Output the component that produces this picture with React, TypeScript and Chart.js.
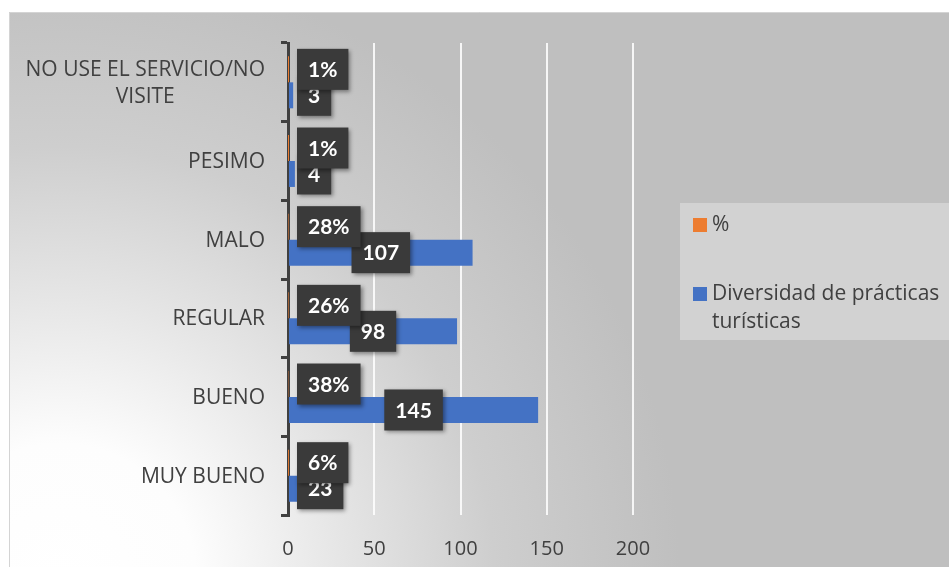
import React, { useEffect, useRef } from 'react';
import { Chart, registerables } from 'chart.js';

Chart.register(...registerables);

const categories: (string | string[])[] = [
  ['NO USE EL SERVICIO/NO', 'VISITE'],
  'PESIMO',
  'MALO',
  'REGULAR',
  'BUENO',
  'MUY BUENO',
];
const percentValues = [0.01, 0.01, 0.28, 0.26, 0.38, 0.06];
const countValues = [3, 4, 107, 98, 145, 23];
const seriesNames = ['%', 'Diversidad de prácticas turísticas'];
const seriesColors = ['#ed7d31', '#4472c4'];
const legendLines = [['%'], ['Diversidad de prácticas', 'turísticas']];
const xMin = 0;
const xMax = 200;
const xStep = 50;

const TEXT = '#404040';
const FONT = "'Open Sans', 'Noto Sans', sans-serif";

const backgroundPlugin = {
  id: 'bg',
  beforeDraw(chart: any) {
    const { ctx, width, height } = chart;
    ctx.save();
    ctx.fillStyle = '#ffffff';
    ctx.fillRect(0, 0, width, height);
    const g = ctx.createRadialGradient(60, 580, 0, 60, 580, 620);
    g.addColorStop(0, '#ffffff');
    g.addColorStop(0.22, '#fdfdfd');
    g.addColorStop(0.45, '#e6e6e6');
    g.addColorStop(0.7, '#cecece');
    g.addColorStop(1, '#bfbfbf');
    ctx.fillStyle = g;
    ctx.fillRect(9, 12, width - 9, height - 12);
    ctx.strokeStyle = '#d4d4d4';
    ctx.lineWidth = 1;
    ctx.beginPath();
    ctx.moveTo(9.5, height);
    ctx.lineTo(9.5, 12.5);
    ctx.lineTo(width, 12.5);
    ctx.stroke();
    ctx.restore();
  },
};

const categoryLabelPlugin = {
  id: 'catLabels',
  afterDraw(chart: any) {
    const { ctx } = chart;
    const yScale = chart.scales.y;
    ctx.save();
    ctx.font = `21px ${FONT}`;
    ctx.fillStyle = TEXT;
    ctx.textAlign = 'center';
    ctx.textBaseline = 'middle';
    const rightEdge = yScale.right - 23;
    const lh = 27;
    categories.forEach((c, i) => {
      const lines = Array.isArray(c) ? c : [c];
      const maxW = Math.max(...lines.map((l) => ctx.measureText(l).width));
      const cx = rightEdge - maxW / 2;
      const cy = yScale.getPixelForValue(i);
      const start = cy - ((lines.length - 1) * lh) / 2;
      lines.forEach((l, k) => ctx.fillText(l, cx, start + k * lh + 1));
    });
    ctx.restore();
  },
};

const boxLabelPlugin = {
  id: 'boxLabels',
  afterDatasetsDraw(chart: any) {
    const { ctx } = chart;
    ctx.save();
    ctx.font = `bold 21px Lato, ${FONT}`;
    ctx.textAlign = 'center';
    ctx.textBaseline = 'middle';
    [1, 0].forEach((di) => {
      const meta = chart.getDatasetMeta(di);
      const data = chart.data.datasets[di].data as number[];
      meta.data.forEach((bar: any, i: number) => {
        const v = data[i];
        const text = di === 0 ? `${Math.round(v * 100)}%` : String(v);
        const tw = ctx.measureText(text).width;
        const w = tw + 22;
        const h = 41;
        const cx = (bar.x + bar.base) / 2;
        let left = cx - w / 2;
        if (left < bar.base + 8) left = bar.base + 8;
        const top = bar.y - h / 2;
        ctx.shadowColor = 'rgba(0,0,0,0.4)';
        ctx.shadowBlur = 4;
        ctx.shadowOffsetX = 2;
        ctx.shadowOffsetY = 2;
        ctx.fillStyle = '#3a3a3a';
        ctx.fillRect(left, top, w, h);
        ctx.shadowColor = 'transparent';
        ctx.shadowBlur = 0;
        ctx.shadowOffsetX = 0;
        ctx.shadowOffsetY = 0;
        ctx.fillStyle = '#ffffff';
        ctx.fillText(text, left + w / 2, bar.y + 1);
      });
    });
    ctx.restore();
  },
};

const legendPlugin = {
  id: 'customLegend',
  afterDraw(chart: any) {
    const { ctx, width } = chart;
    const ca = chart.chartArea;
    const bx = ca.right + 47;
    const by = 203;
    ctx.save();
    ctx.fillStyle = '#d2d2d2';
    ctx.fillRect(bx, by, width - bx, 137);
    ctx.font = `21px ${FONT}`;
    ctx.textAlign = 'left';
    ctx.textBaseline = 'middle';
    const rows = [225, 294];
    seriesNames.forEach((_, i) => {
      ctx.fillStyle = seriesColors[i];
      ctx.fillRect(bx + 13, rows[i] - 7, 14, 14);
      ctx.fillStyle = TEXT;
      legendLines[i].forEach((l, k) => ctx.fillText(l, bx + 32, rows[i] + k * 28));
    });
    ctx.restore();
  },
};

export default function App() {
  const ref = useRef<HTMLCanvasElement>(null);
  useEffect(() => {
    if (!ref.current) return;
    const chart = new Chart(ref.current, {
      type: 'bar',
      data: {
        labels: categories as any,
        datasets: [
          {
            label: seriesNames[0],
            data: percentValues,
            backgroundColor: seriesColors[0],
            barPercentage: 1,
            categoryPercentage: 0.66,
          },
          {
            label: seriesNames[1],
            data: countValues,
            backgroundColor: seriesColors[1],
            barPercentage: 1,
            categoryPercentage: 0.66,
          },
        ],
      },
      options: {
        indexAxis: 'y',
        responsive: false,
        animation: false,
        devicePixelRatio: 1,
        layout: { padding: { top: 43, right: 316, left: 0, bottom: 0 } },
        plugins: { legend: { display: false }, tooltip: { enabled: false } },
        scales: {
          y: {
            type: 'category',
            offset: true,
            grid: {
              offset: true,
              drawOnChartArea: false,
              drawTicks: true,
              tickLength: 7,
              color: TEXT,
              lineWidth: 3,
            },
            border: { display: true, color: TEXT, width: 3 },
            ticks: { display: false },
            afterFit: (s: any) => {
              s.width = 288;
            },
          },
          x: {
            type: 'linear',
            min: xMin,
            max: xMax,
            ticks: {
              stepSize: xStep,
              color: TEXT,
              font: { size: 20, family: FONT },
              padding: 22,
            },
            grid: {
              color: (c: any) => (c.tick && c.tick.value === 0 ? 'rgba(0,0,0,0)' : 'rgba(255,255,255,0.85)'),
              lineWidth: 2,
              drawTicks: false,
            },
            border: { display: false },
            afterFit: (s: any) => {
              s.height = 52;
            },
          },
        },
      } as any,
      plugins: [backgroundPlugin, categoryLabelPlugin, boxLabelPlugin, legendPlugin],
    });
    return () => chart.destroy();
  }, []);
  return (
    <div style={{ position: 'fixed', left: 0, top: 0, width: 949, height: 567 }}>
      <canvas ref={ref} width={949} height={567} style={{ display: 'block' }} />
    </div>
  );
}
